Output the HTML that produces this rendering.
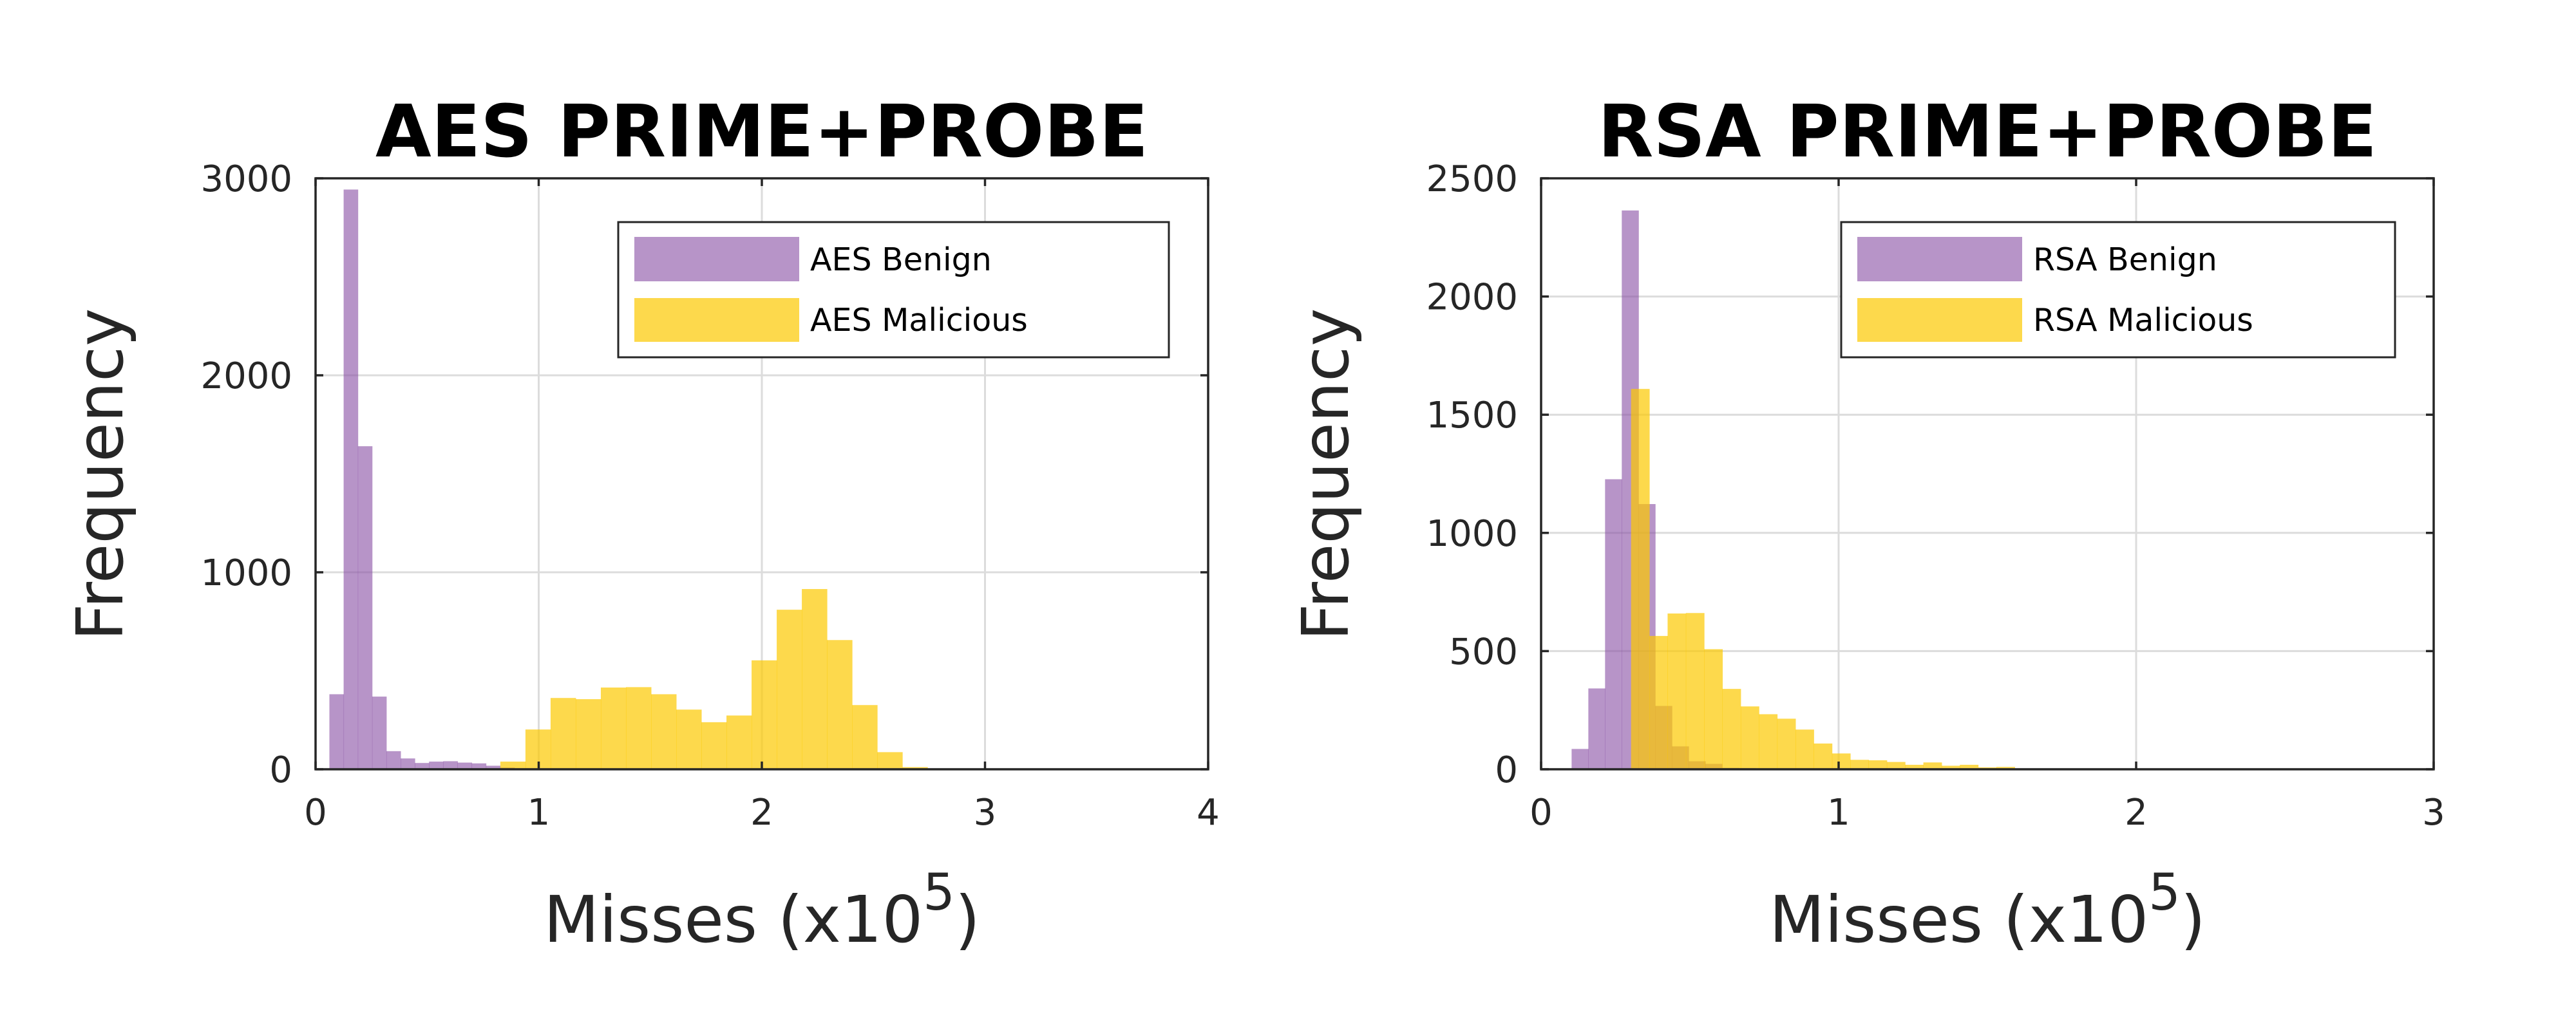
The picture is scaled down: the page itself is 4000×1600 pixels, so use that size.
<!DOCTYPE html>
<html><head><meta charset="utf-8"><style>
html,body{margin:0;padding:0;background:#fff;}
svg{display:block;font-family:"DejaVu Sans","Liberation Sans",sans-serif;}
</style></head><body>
<svg id="fig" width="4000" height="1600" viewBox="0 0 4000 1600" xmlns="http://www.w3.org/2000/svg"></svg>
<script>
// ---- AES data ----
const aesBenignStart = 0.062;
const aesBenignWidth = 0.0638;
const aesBenignCounts = [381, 2943, 1640, 369, 92, 55, 32, 39, 41, 34, 30, 18, 9];
const aesMalStart = 0.828;
const aesMalWidth = 0.1126;
const aesMalCounts = [39, 202, 362, 356, 415, 417, 381, 303, 239, 273, 553, 810, 915, 656, 326, 87, 11];
const aesXTicks = [0, 1, 2, 3, 4];
const aesYTicks = [0, 1000, 2000, 3000];
// ---- RSA data ----
const rsaBenignStart = 0.1026;
const rsaBenignWidth = 0.0562;
const rsaBenignCounts = [86, 342, 1227, 2364, 1122, 268, 97, 34, 23, 6, 5, 3];
const rsaMalStart = 0.3024;
const rsaMalWidth = 0.0614;
const rsaMalCounts = [1609, 564, 659, 661, 508, 340, 266, 233, 214, 168, 109, 67, 40, 38, 31, 19, 29, 15, 19, 8, 10, 4];
const rsaXTicks = [0, 1, 2, 3];
const rsaYTicks = [0, 500, 1000, 1500, 2000, 2500];

const NS = "http://www.w3.org/2000/svg";
const svg = document.getElementById('fig');
function mk(tag, attrs, parent) {
  const e = document.createElementNS(NS, tag);
  for (const k in attrs) e.setAttribute(k, attrs[k]);
  (parent || svg).appendChild(e);
  return e;
}
const PURPLE = "rgba(135,77,163,0.6)";
const YELLOW = "rgba(252,201,0,0.7)";
const AX = "#262626";
const SW = 3.5;

function panel(cfg) {
  const g = mk('g', {});
  
  
  const L = cfg.left, R = cfg.left + 1386, T = 277, B = 1195;
  const xs = v => L + (v - cfg.xmin) / (cfg.xmax - cfg.xmin) * (R - L);
  const ys = v => B - v / cfg.ymax * (B - T);
  cfg.xTicks.forEach(t => {
    if (t > cfg.xmin && t < cfg.xmax) {
      const l = mk('line', {x1: xs(t), x2: xs(t), y1: T, y2: B, stroke: '#dcdcdc', 'stroke-width': 3}, g);
      
      
    }
  });
  cfg.yTicks.forEach(t => {
    if (t > 0 && t < cfg.ymax) {
      const l = mk('line', {x1: L, x2: R, y1: ys(t), y2: ys(t), stroke: '#dcdcdc', 'stroke-width': 3}, g);
      
      
    }
  });
  function bars(start, w, counts, fill, nm) {
    counts.forEach((c, i) => {
      const x0 = xs(start + i * w), x1 = xs(start + (i + 1) * w);
      const r = mk('rect', {x: x0, y: ys(c), width: x1 - x0 + 0.5, height: B - ys(c), fill: fill}, g);
      
      
    });
  }
  bars(cfg.bStart, cfg.bWidth, cfg.bCounts, PURPLE, cfg.id + '-benign');
  bars(cfg.mStart, cfg.mWidth, cfg.mCounts, YELLOW, cfg.id + '-malicious');
  const box = mk('rect', {x: L, y: T, width: R - L, height: B - T, fill: 'none', stroke: AX, 'stroke-width': SW}, g);
  
  
  cfg.xTicks.forEach(t => {
    mk('line', {x1: xs(t), x2: xs(t), y1: B, y2: B - 12, stroke: AX, 'stroke-width': SW}, g);
    mk('line', {x1: xs(t), x2: xs(t), y1: T, y2: T + 12, stroke: AX, 'stroke-width': SW}, g);
    const tx = mk('text', {x: xs(t), y: 1281, 'font-size': 56, fill: AX, 'text-anchor': 'middle'}, g);
    
    
    tx.textContent = t;
  });
  cfg.yTicks.forEach(t => {
    mk('line', {x1: L, x2: L + 12, y1: ys(t), y2: ys(t), stroke: AX, 'stroke-width': SW}, g);
    mk('line', {x1: R, x2: R - 12, y1: ys(t), y2: ys(t), stroke: AX, 'stroke-width': SW}, g);
    const tx = mk('text', {x: L - 36, y: ys(t) + 20, 'font-size': 56, fill: AX, 'text-anchor': 'end'}, g);
    
    
    tx.textContent = t;
  });
  const ti = mk('text', {x: (L + R) / 2, y: 243, 'font-size': 112, 'font-weight': 'bold', fill: '#000', 'text-anchor': 'middle'}, g);
  
  
  ti.textContent = cfg.title;
  const yl = mk('text', {x: 0, y: 0, 'font-size': 100, fill: AX, 'text-anchor': 'middle', transform: `translate(${L - 300},737) rotate(-90)`}, g);
  
  
  yl.textContent = 'Frequency';
  const xl = mk('text', {x: (L + R) / 2, y: 1463, 'font-size': 100, fill: AX, 'text-anchor': 'middle'}, g);
  
  
  xl.appendChild(document.createTextNode('Misses (x10'));
  const sup = mk('tspan', {'font-size': 78, dy: -50}, xl);
  sup.textContent = '5';
  const cl = mk('tspan', {dy: 50}, xl);
  cl.textContent = ')';
  const lg = mk('g', {}, g);
  
  
  const lx = cfg.legendLeft, lw = cfg.legendWidth;
  mk('rect', {x: lx, y: 345, width: lw, height: 210, fill: '#fff', stroke: AX, 'stroke-width': 3}, lg);
  const e1 = mk('rect', {x: lx + 25, y: 368, width: 256, height: 69, fill: PURPLE}, lg);
  
  
  const e2 = mk('rect', {x: lx + 25, y: 463, width: 256, height: 68, fill: YELLOW}, lg);
  
  
  const t1 = mk('text', {x: lx + 298, y: 420, 'font-size': 49, fill: '#000'}, lg);
  
  
  t1.textContent = cfg.bName;
  const t2 = mk('text', {x: lx + 298, y: 514, 'font-size': 49, fill: '#000'}, lg);
  
  
  t2.textContent = cfg.mName;
}

panel({id: 'aes', left: 490, xmin: 0, xmax: 4, ymax: 3000, xTicks: aesXTicks, yTicks: aesYTicks,
  bStart: aesBenignStart, bWidth: aesBenignWidth, bCounts: aesBenignCounts,
  mStart: aesMalStart, mWidth: aesMalWidth, mCounts: aesMalCounts,
  title: 'AES PRIME+PROBE', bName: 'AES Benign', mName: 'AES Malicious', legendLeft: 960, legendWidth: 855});
panel({id: 'rsa', left: 2393, xmin: 0, xmax: 3, ymax: 2500, xTicks: rsaXTicks, yTicks: rsaYTicks,
  bStart: rsaBenignStart, bWidth: rsaBenignWidth, bCounts: rsaBenignCounts,
  mStart: rsaMalStart, mWidth: rsaMalWidth, mCounts: rsaMalCounts,
  title: 'RSA PRIME+PROBE', bName: 'RSA Benign', mName: 'RSA Malicious', legendLeft: 2859, legendWidth: 860});
</script>
</body></html>
